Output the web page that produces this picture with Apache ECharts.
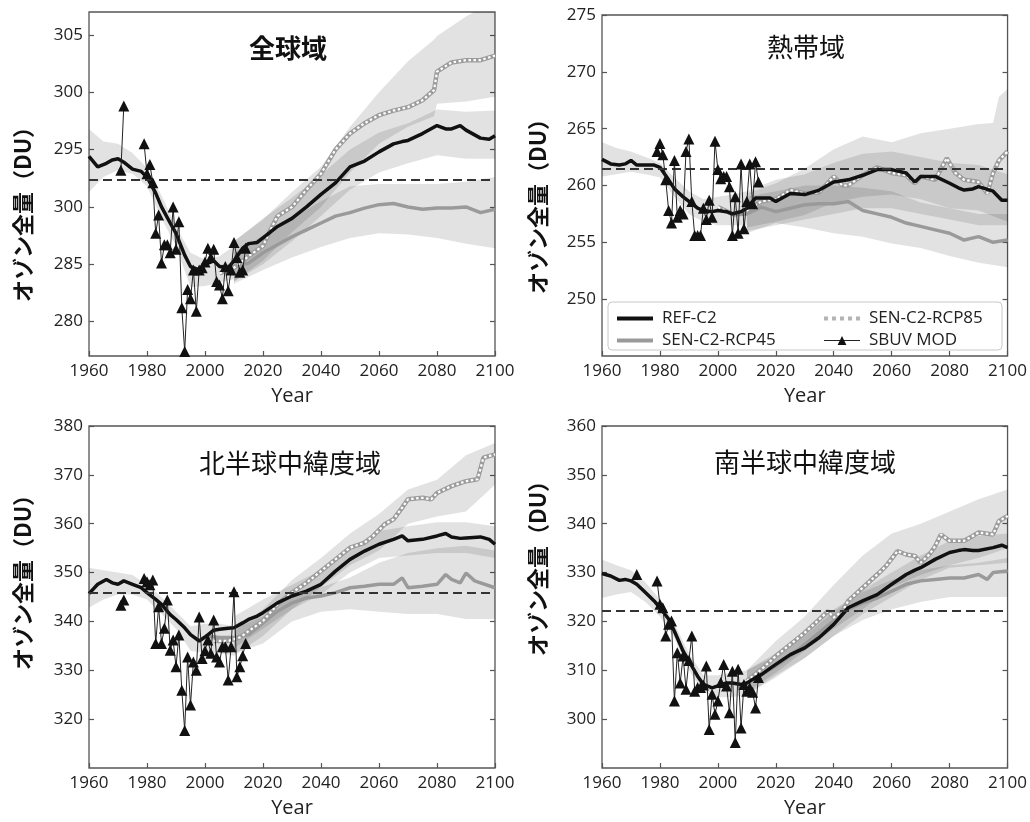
<!DOCTYPE html>
<html><head><meta charset="utf-8">
<script src="https://cdn.jsdelivr.net/npm/echarts@6/dist/echarts.min.js"></script>
<style>html,body{margin:0;padding:0;background:#fff}#c{width:1030px;height:822px}</style>
</head><body><div id="c"></div>
<script>
// ---------------- DATA ----------------
const TITLES = ['全球域', '熱帯域', '北半球中緯度域', '南半球中緯度域'];
const Y_NAME = 'オゾン全量（DU）';
const X_NAME = 'Year';
const SERIES_NAMES = ['REF-C2', 'SEN-C2-RCP45', 'SEN-C2-RCP85', 'SBUV MOD'];

// y tick values and their printed labels (as printed in the figure)
const G_TICKS = [280, 285, 290, 295, 300, 305];
const G_TICK_LABELS = ['280', '285', '300', '295', '300', '305'];
const T_TICKS = [250, 255, 260, 265, 270, 275];
const T_TICK_LABELS = ['250', '255', '260', '265', '270', '275'];
const N_TICKS = [320, 330, 340, 350, 360, 370, 380];
const N_TICK_LABELS = ['320', '330', '340', '350', '360', '370', '380'];
const S_TICKS = [300, 310, 320, 330, 340, 350, 360];
const S_TICK_LABELS = ['300', '310', '320', '330', '340', '350', '360'];

// 1980 reference levels (dashed lines)
const LEVEL_1980 = [292.4, 261.5, 345.8, 322.2];

// REF-C2 (common years)
const REF_YEARS = [1960,1963,1966,1968,1970,1972,1975,1978,1980,1983,1985,1988,1990,1993,1995,1998,2000,2003,2005,2008,2010,2013,2015,2018,2020,2025,2030,2035,2040,2045,2050,2055,2060,2065,2068,2070,2075,2080,2083,2085,2088,2090,2095,2098,2100];
const G_REF = [294.4,293.5,293.8,294.1,294.2,293.9,293.3,293.1,292.6,291.2,290.0,288.6,287.7,285.8,284.8,284.5,285.0,285.3,284.8,284.7,285.3,286.4,286.8,286.9,287.3,288.3,289.0,290.0,291.1,292.1,293.5,294.0,294.8,295.5,295.7,295.8,296.4,297.1,296.8,296.8,297.1,296.7,296.0,295.9,296.2];
const T_REF = [262.3,261.9,261.8,261.9,262.2,261.8,261.8,261.8,261.6,260.5,259.7,259.0,258.6,258.0,257.8,257.7,257.8,257.7,257.5,257.7,258.0,258.9,258.9,258.9,258.6,259.3,259.2,259.6,260.3,260.5,260.9,261.4,261.4,261.1,260.3,260.8,260.8,260.2,259.8,259.6,259.7,259.9,259.5,258.7,258.7];
const N_REF = [345.7,347.6,348.6,347.9,347.6,348.3,347.6,346.9,345.9,344.5,343.5,341.4,340.4,338.7,337.3,336.0,336.8,338.2,338.4,338.6,338.7,339.7,340.4,341.1,341.8,343.8,345.2,346.2,347.6,350.3,352.7,354.4,355.8,356.8,357.5,356.5,356.8,357.5,358.0,357.3,357.0,357.1,357.3,356.8,355.8];
const S_REF = [329.8,329.3,328.4,328.6,328.3,327.6,325.9,324.2,322.8,320.5,318.0,313.9,311.9,308.8,307.1,306.4,306.8,307.4,307.4,307.1,307.4,308.5,309.1,310.4,311.2,313.2,314.6,316.7,319.4,322.8,324.2,325.5,327.6,329.6,330.5,331.0,332.7,334.1,334.5,334.7,334.5,334.5,335.1,335.6,335.1];

// SEN-C2-RCP85
const G85_YEARS = [2005,2010,2015,2020,2022,2025,2030,2035,2040,2045,2050,2055,2060,2065,2070,2075,2079,2080,2085,2090,2095,2100];
const G85 = [284.2,284.7,285.7,286.6,287.7,289.2,290.0,291.5,292.9,295.0,296.4,297.3,298.0,298.4,298.7,299.3,300.2,301.8,302.6,302.8,302.8,303.2];
const T85_YEARS = [2000,2005,2010,2015,2020,2025,2030,2035,2040,2043,2045,2050,2055,2060,2065,2068,2070,2075,2079,2082,2085,2090,2093,2095,2097,2100];
const T85 = [258.1,257.5,257.8,258.6,258.8,259.6,259.3,259.4,260.8,260.0,260.0,260.9,261.6,261.1,260.9,260.2,260.8,260.5,262.4,261.1,260.5,260.3,259.3,261.1,262.2,263.0];
const N85_YEARS = [2003,2008,2012,2015,2020,2025,2030,2035,2040,2045,2050,2055,2058,2062,2065,2068,2070,2075,2078,2080,2085,2090,2094,2096,2100];
const N85 = [336.0,336.0,336.7,338.0,340.1,343.5,345.9,347.9,350.3,352.7,355.1,356.1,357.5,359.9,360.9,363.3,365.0,365.3,365.0,366.3,367.7,368.7,369.1,373.5,374.2];
const S85_YEARS = [2010,2015,2020,2025,2030,2035,2038,2040,2043,2045,2050,2055,2058,2062,2065,2068,2070,2073,2075,2077,2080,2085,2088,2090,2095,2097,2100];
const S85 = [307.8,310.2,312.9,315.3,317.7,320.4,322.1,320.8,322.1,324.2,326.9,329.6,331.3,334.4,333.7,333.4,332.0,333.7,335.4,337.8,336.5,336.5,337.5,338.2,337.8,340.5,341.6];

// SEN-C2-RCP45
const G45_YEARS = [2005,2010,2015,2020,2025,2030,2035,2040,2045,2050,2055,2060,2065,2070,2075,2080,2085,2090,2095,2100];
const G45 = [284.8,284.8,285.1,286.0,286.7,287.4,288.0,288.6,289.2,289.5,289.9,290.2,290.3,290.0,289.8,289.9,289.9,290.0,289.5,289.8];
const T45_YEARS = [2005,2010,2015,2020,2025,2030,2035,2040,2045,2050,2055,2060,2065,2070,2075,2080,2085,2090,2095,2100];
const T45 = [257.4,257.5,258.1,257.7,258.0,258.3,258.4,258.4,258.6,257.8,257.5,257.2,256.7,256.4,256.1,255.8,255.2,255.5,255.0,255.2];
const N45_YEARS = [2000,2005,2010,2015,2020,2025,2030,2035,2040,2045,2050,2055,2060,2065,2068,2070,2075,2080,2083,2085,2088,2090,2093,2095,2100];
const N45 = [337.0,336.7,336.7,337.3,339.7,342.1,343.8,344.8,345.2,345.9,346.9,347.2,347.6,347.6,348.9,346.9,347.2,347.6,349.6,348.6,347.9,349.9,348.3,347.9,346.9];
const S45_YEARS = [2010,2015,2020,2025,2030,2035,2040,2045,2050,2055,2060,2065,2070,2075,2080,2085,2090,2093,2095,2100];
const S45 = [307.8,309.1,310.9,312.9,315.3,317.7,320.1,322.5,323.8,324.8,326.2,327.6,328.3,328.6,328.9,328.9,329.6,328.6,330.0,330.3];

// SBUV MOD observations (null = gap)
const SB_YEARS = [1971,1972,1975,1979,1980,1981,1982,1983,1984,1985,1986,1987,1988,1989,1990,1991,1992,1993,1994,1995,1996,1997,1998,1999,2000,2001,2002,2003,2004,2005,2006,2007,2008,2009,2010,2011,2012,2013,2014];
const G_SB = [293.2,298.8,null,295.5,292.9,293.7,292.1,287.7,289.3,285.1,286.7,286.7,286.0,290.0,286.3,288.7,281.2,277.4,282.8,282.0,284.5,280.9,284.5,284.7,285.2,286.4,285.6,286.3,283.5,283.2,282.0,284.8,282.7,284.5,286.9,285.6,284.3,284.5,286.4];
const T_SB = [null,null,null,263.0,263.7,262.7,260.5,257.8,256.7,262.2,257.2,257.8,257.5,263.0,264.1,258.6,255.6,255.6,255.6,258.0,257.0,258.7,257.2,263.9,261.4,260.6,260.8,260.8,259.9,255.6,259.0,255.8,261.9,256.2,258.6,261.9,258.4,262.1,260.3];
const N_SB = [343.3,344.4,null,348.8,348.1,347.5,348.5,335.5,343.0,335.5,338.6,344.4,334.1,336.2,330.7,337.2,325.9,317.7,332.7,322.9,331.7,330.0,340.9,332.4,334.0,336.2,333.5,340.3,332.7,331.7,334.8,334.8,328.0,334.8,346.1,328.7,330.7,333.0,335.5];
const S_SB = [null,329.6,null,328.3,323.5,322.8,317.0,319.4,320.1,303.7,313.6,307.4,312.9,306.1,312.0,317.0,305.7,306.5,306.5,307.0,310.9,297.9,305.1,301.0,303.7,307.5,311.2,306.8,301.3,309.8,295.2,310.2,298.2,307.1,305.7,306.4,305.5,302.3,308.5];

// Model spread envelopes (low / high)
const HIST_BAND_YEARS = [1960,1965,1970,1975,1980,1985,1990,1995,2000,2005,2010];
const FUT_BAND_YEARS = [2010,2020,2030,2040,2050,2060,2070,2080,2090,2100];
const G_HIST_LO = [291.3,292.6,293.2,292.9,291.8,289.0,286.6,283.0,283.1,283.4,283.7];
const G_HIST_HI = [296.8,295.7,295.5,294.7,293.4,291.0,288.3,286.0,285.4,285.7,286.6];
const G_B85_YEARS = [2010,2020,2030,2040,2050,2060,2070,2079,2080,2090,2100];
const G_B85_LO = [283.5,285.3,287.8,290.0,293.0,295.5,297.0,297.9,299.0,299.2,299.6];
const G_B85_HI = [287.0,288.9,291.3,293.5,297.0,300.0,302.7,304.6,304.9,306.6,308.0];
const G_BREF_LO = [283.5,285.0,287.0,289.2,291.5,293.0,293.8,294.5,294.2,294.2];
const G_BREF_HI = [287.0,289.0,290.8,292.8,295.0,296.5,297.3,298.5,298.3,298.4];
const G_B45_LO = [283.3,284.5,285.6,286.5,287.3,287.7,287.6,287.3,286.8,286.4];
const G_B45_HI = [286.0,287.5,289.0,290.5,291.8,292.0,292.0,292.0,292.2,292.6];

const T_HIST_LO = [260.8,261.0,261.2,261.0,260.7,259.0,257.5,256.8,256.5,256.5,256.5];
const T_HIST_HI = [263.8,263.3,263.0,262.5,262.0,260.7,259.5,258.8,259.0,259.2,259.5];
const T_B85_YEARS = [2010,2020,2030,2040,2050,2060,2070,2080,2090,2095,2097,2100];
const T_B85_LO = [256.0,256.5,257.0,257.5,258.0,258.0,257.5,257.0,256.5,256.5,256.5,256.5];
const T_B85_HI = [259.3,260.2,261.5,263.2,264.3,263.8,264.6,265.0,265.4,265.5,267.8,268.5];
const T_BREF_LO = [256.3,256.8,257.4,258.5,259.0,259.2,258.8,258.0,257.8,256.8];
const T_BREF_HI = [259.5,260.5,261.0,262.0,262.8,263.0,262.5,262.0,261.8,261.0];
const T_B45_LO = [255.8,256.7,256.3,255.8,255.5,254.9,254.5,253.8,253.2,252.8];
const T_B45_HI = [259.0,259.5,260.0,260.0,259.8,259.5,258.5,258.0,257.5,257.5];

const N_HIST_LO = [342.8,344.5,345.5,345.5,344.5,341.5,338.5,334.0,333.5,333.5,333.0];
const N_HIST_HI = [351.0,350.5,350.0,349.5,347.5,345.0,342.0,339.0,339.5,339.5,339.0];
const N_B85_LO = [333.0,337.0,342.5,347.0,351.5,354.5,360.0,361.5,362.5,368.0];
const N_B85_HI = [338.0,342.5,348.5,353.0,358.0,362.0,367.0,369.0,374.0,376.5];
const N_BREF_LO = [334.5,338.5,342.5,345.5,350.0,353.0,353.5,354.0,354.0,353.0];
const N_BREF_HI = [341.0,344.5,347.5,350.5,355.0,358.5,359.5,360.3,360.3,359.5];
const N_B45_LO = [333.5,335.5,340.0,342.0,342.5,342.0,341.5,341.5,340.5,340.5];
const N_B45_HI = [338.5,341.0,345.5,347.0,349.0,352.0,354.0,355.0,355.5,354.5];

const S_HIST_LO = [324.8,325.5,326.0,324.0,321.0,316.5,310.0,305.5,304.5,304.5,305.0];
const S_HIST_HI = [332.7,331.5,330.5,328.0,324.5,319.5,313.5,309.0,309.0,309.5,310.0];
const S_B85_LO = [305.5,309.5,314.0,318.5,322.5,327.0,329.5,331.5,333.0,335.0];
const S_B85_HI = [310.0,316.0,321.0,327.5,333.5,338.0,340.0,342.5,345.0,347.0];
const S_BREF_LO = [305.0,309.0,312.5,317.0,321.5,325.0,328.5,331.0,331.5,332.0];
const S_BREF_HI = [310.0,313.5,317.0,322.0,326.5,330.0,333.5,336.5,337.5,338.0];
const S_B45_LO = [305.0,308.5,312.5,317.0,320.3,322.5,324.0,325.0,325.0,325.0];
const S_B45_HI = [310.0,313.0,317.5,322.5,326.0,328.5,330.5,331.5,332.0,333.0];

// ---------------- LAYOUT (not data) ----------------
const FONT = "'Open Sans', 'DejaVu Sans', sans-serif";
const CJK = "'Noto Sans CJK JP', sans-serif";
const panels = [
  { grid:{left:89, top:12, width:406, height:344}, ymin:277, ymax:307, ticks:G_TICKS, labels:G_TICK_LABELS,
    ref:G_REF, y85:G85_YEARS, v85:G85, y45:G45_YEARS, v45:G45, sb:G_SB,
    bands:[[HIST_BAND_YEARS,G_HIST_LO,G_HIST_HI],[G_B85_YEARS,G_B85_LO,G_B85_HI],[FUT_BAND_YEARS,G_BREF_LO,G_BREF_HI],[FUT_BAND_YEARS,G_B45_LO,G_B45_HI]],
    title:{x:288, y:48, bold:true}, yname:{x:23, y:209} },
  { grid:{left:602, top:15, width:406, height:341}, ymin:245, ymax:275, ticks:T_TICKS, labels:T_TICK_LABELS,
    ref:T_REF, y85:T85_YEARS, v85:T85, y45:T45_YEARS, v45:T45, sb:T_SB,
    bands:[[HIST_BAND_YEARS,T_HIST_LO,T_HIST_HI],[T_B85_YEARS,T_B85_LO,T_B85_HI],[FUT_BAND_YEARS,T_BREF_LO,T_BREF_HI],[FUT_BAND_YEARS,T_B45_LO,T_B45_HI]],
    title:{x:806, y:47, bold:false}, yname:{x:538, y:201} },
  { grid:{left:89, top:426, width:406, height:342}, ymin:310, ymax:380, ticks:N_TICKS, labels:N_TICK_LABELS,
    ref:N_REF, y85:N85_YEARS, v85:N85, y45:N45_YEARS, v45:N45, sb:N_SB,
    bands:[[HIST_BAND_YEARS,N_HIST_LO,N_HIST_HI],[FUT_BAND_YEARS,N_B85_LO,N_B85_HI],[FUT_BAND_YEARS,N_BREF_LO,N_BREF_HI],[FUT_BAND_YEARS,N_B45_LO,N_B45_HI]],
    title:{x:290, y:463, bold:false}, yname:{x:23, y:577} },
  { grid:{left:602, top:426, width:406, height:342}, ymin:290, ymax:360, ticks:S_TICKS, labels:S_TICK_LABELS,
    ref:S_REF, y85:S85_YEARS, v85:S85, y45:S45_YEARS, v45:S45, sb:S_SB,
    bands:[[HIST_BAND_YEARS,S_HIST_LO,S_HIST_HI],[FUT_BAND_YEARS,S_B85_LO,S_B85_HI],[FUT_BAND_YEARS,S_BREF_LO,S_BREF_HI],[FUT_BAND_YEARS,S_B45_LO,S_B45_HI]],
    title:{x:805, y:462, bold:false}, yname:{x:538, y:563} }
];

function pairs(xs, ys){ return xs.map((x,i)=>[x, ys[i]]); }

const grid=[], xAxis=[], yAxis=[], series=[], graphic=[];
panels.forEach((p, k) => {
  grid.push(Object.assign({show:true, borderColor:'#555', borderWidth:1.3, backgroundColor:'transparent'}, p.grid));
  xAxis.push({type:'value', gridIndex:k, min:1960, max:2100, interval:20,
    axisLine:{show:false}, splitLine:{show:false},
    axisTick:{show:true, inside:true, length:5, lineStyle:{color:'#555', width:1.2}},
    axisLabel:{fontFamily:FONT, fontSize:17, color:'#222', margin:7, formatter:(v)=>String(v)},
    name:X_NAME, nameLocation:'middle', nameGap:30, nameTextStyle:{fontFamily:FONT, fontSize:20, color:'#222'}});
  const labelMap = {}; p.ticks.forEach((t,i)=>labelMap[t]=p.labels[i]);
  yAxis.push({type:'value', gridIndex:k, position:'left', min:p.ymin, max:p.ymax,
    axisLine:{show:false}, splitLine:{show:false},
    axisTick:{show:true, inside:true, length:5, customValues:p.ticks, lineStyle:{color:'#555', width:1.2}},
    axisLabel:{fontFamily:FONT, fontSize:17, color:'#222', margin:6, customValues:p.ticks, formatter:(v)=>labelMap[v] ?? String(v)}});
  yAxis.push({type:'value', gridIndex:k, position:'right', min:p.ymin, max:p.ymax,
    axisLine:{show:false}, splitLine:{show:false}, axisLabel:{show:false},
    axisTick:{show:true, inside:true, length:5, customValues:p.ticks, lineStyle:{color:'#555', width:1.2}}});

  p.bands.forEach((b, j) => {
    const data = b[0].map((y,i)=>[y, b[1][i], b[2][i]]);
    series.push({type:'custom', name:'band'+k+'_'+j, xAxisIndex:k, yAxisIndex:2*k, clip:true, silent:true, z:1,
      data, encode:{x:0, y:[1,2]},
      renderItem(params, api){
        if (params.dataIndex !== 0) return null;
        const top = data.map(d=>api.coord([d[0], d[2]]));
        const bot = data.map(d=>api.coord([d[0], d[1]])).reverse();
        return {type:'polygon', shape:{points: top.concat(bot)}, style:{fill:'rgba(0,0,0,0.115)'}};
      }});
  });

  series.push({type:'line', name:SERIES_NAMES[1], xAxisIndex:k, yAxisIndex:2*k, data:pairs(p.y45, p.v45),
    showSymbol:false, symbol:'none', z:2, itemStyle:{color:'#9a9a9a'}, lineStyle:{color:'#9a9a9a', width:3.5}, silent:true});
  series.push({type:'line', name:SERIES_NAMES[2], xAxisIndex:k, yAxisIndex:2*k, data:pairs(p.y85, p.v85),
    showSymbol:false, symbol:'none', z:3, itemStyle:{color:'#9c9c9c'}, lineStyle:{color:'#9c9c9c', width:4.5}, silent:true});
  series.push({type:'line', name:'rcp85dots'+k, xAxisIndex:k, yAxisIndex:2*k, data:pairs(p.y85, p.v85),
    showSymbol:false, symbol:'none', z:3, lineStyle:{color:'#ffffff', width:2.2, type:[2.5,2.5]}, silent:true});
  series.push({type:'line', name:SERIES_NAMES[0], xAxisIndex:k, yAxisIndex:2*k, data:pairs(REF_YEARS, p.ref),
    showSymbol:false, symbol:'none', z:4, itemStyle:{color:'#111'}, lineStyle:{color:'#111', width:3.5}, silent:true});
  series.push({type:'line', name:SERIES_NAMES[3], xAxisIndex:k, yAxisIndex:2*k, data:pairs(SB_YEARS, p.sb),
    connectNulls:false, symbol:'triangle', symbolSize:11, showSymbol:true, z:5,
    itemStyle:{color:'#111'}, lineStyle:{color:'#222', width:1}, silent:true,
    markLine:{silent:true, symbol:'none', label:{show:false}, lineStyle:{color:'#333', type:[9,5], width:1.8},
      data:[{yAxis: LEVEL_1980[k]}]}});

  graphic.push({type:'text', x:p.title.x, y:p.title.y, z:30,
    style:{text:TITLES[k], font:(p.title.bold?'bold ':'')+'26px '+CJK, fill:'#111', align:'center', verticalAlign:'middle'}});
  graphic.push({type:'text', x:p.yname.x, y:p.yname.y, rotation:Math.PI/2, z:30,
    style:{text:Y_NAME, font:'bold 22px '+CJK, fill:'#111', align:'center', verticalAlign:'middle'}});
});

// legend frame (tropics panel)
graphic.push({type:'rect', z:15, shape:{x:608, y:302, width:394, height:48, r:4},
  style:{fill:'#fff', stroke:'#c8c8c8', lineWidth:1}});

const legendCommon = {orient:'vertical', itemWidth:36, itemHeight:11, itemGap:5, z:20, selectedMode:false,
  textStyle:{fontFamily:FONT, fontSize:17, color:'#222', padding:[0,0,0,4]}};
const HIDE_DOT = {opacity:0};

const option = {
  animation:false,
  grid, xAxis, yAxis, series, graphic,
  legend:[
    Object.assign({left:610, top:305, data:[
      {name:SERIES_NAMES[0], itemStyle:HIDE_DOT, lineStyle:{color:'#111', width:4}},
      {name:SERIES_NAMES[1], itemStyle:HIDE_DOT, lineStyle:{color:'#9a9a9a', width:4}}]}, legendCommon),
    Object.assign({left:817, top:305, data:[
      {name:SERIES_NAMES[2], itemStyle:HIDE_DOT, lineStyle:{color:'#b4b4b4', width:4, type:'dotted'}},
      {name:SERIES_NAMES[3], lineStyle:{color:'#222', width:1.2}}]}, legendCommon)
  ]
};
const chart = echarts.init(document.getElementById('c'), null, {renderer:'canvas'});
chart.setOption(option);
</script></body></html>
